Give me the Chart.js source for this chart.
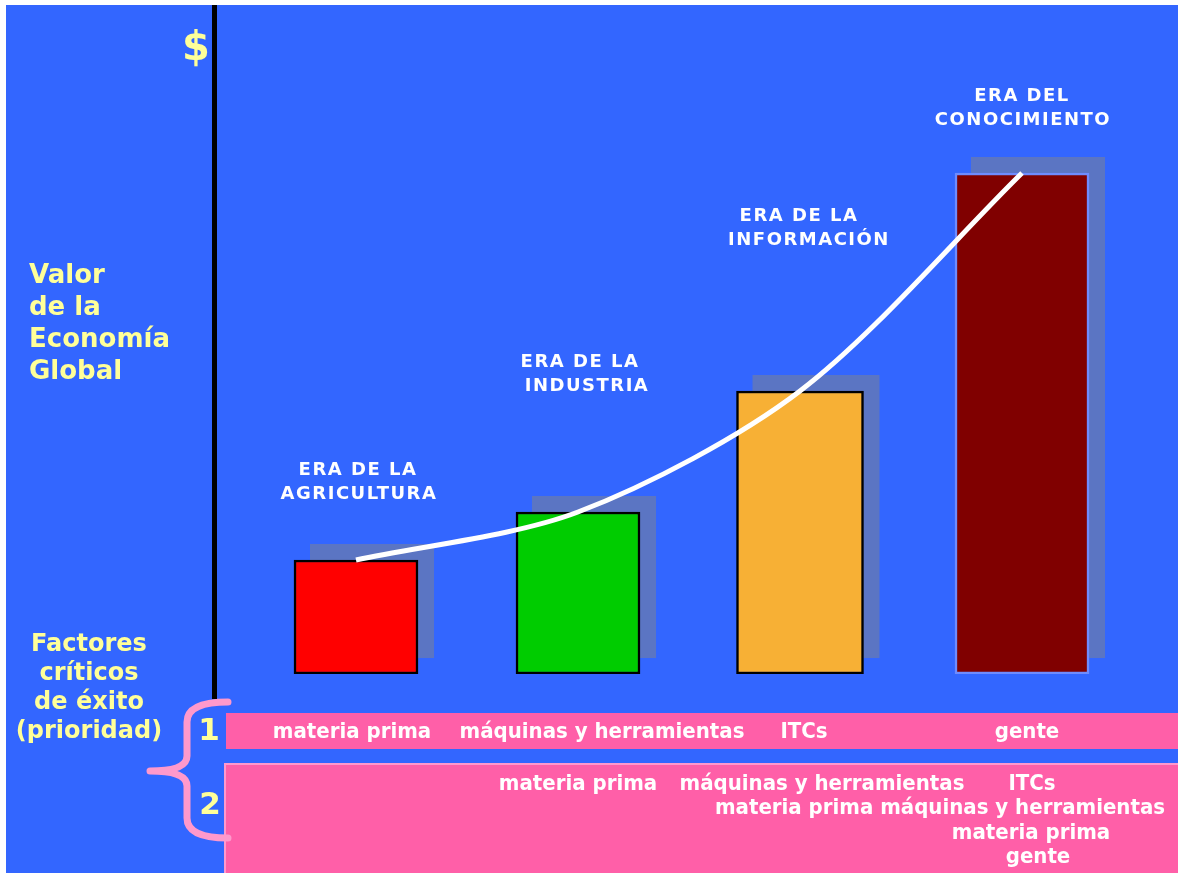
<!DOCTYPE html>
<html lang="es">
<head>
<meta charset="utf-8">
<title>Valor de la Economía Global</title>
<script src="https://cdn.jsdelivr.net/npm/chart.js@4/dist/chart.umd.min.js"></script>
<style>
  html, body { margin: 0; padding: 0; background: #ffffff; }
  #chart { display: block; }
</style>
</head>
<body>
<canvas id="chart" width="1178" height="873"></canvas>
<script>
// Eras (categories) and the value of the global economy in each one
const eras = [
  ['ERA DE LA', 'AGRICULTURA'],
  ['ERA DE LA', 'INDUSTRIA'],
  ['ERA DE LA', 'INFORMACIÓN'],
  ['ERA DEL', 'CONOCIMIENTO']
];
const valorEconomia = [22.8, 32.4, 56.6, 100.2];

// Critical success factors, priority 1 (one per era)
const factoresPrioridad1 = ['materia prima', 'máquinas y herramientas', 'ITCs', 'gente'];
// Critical success factors, priority 2 (rows of text in the lower band)
const factoresPrioridad2 = [
  ['materia prima', 'máquinas y herramientas', 'ITCs'],
  ['materia prima máquinas y herramientas'],
  ['materia prima'],
  ['gente']
];

// ---- styles and layout ----
const AZUL = '#3366FF';
const ROSA = '#FF5FA8';
const ROSA_CLARO = '#FF99CC';
const AMARILLO = '#FFFF99';
const SOMBRA = '#5B75C3';
const coloresBarras = ['#FF0000', '#00CC00', '#F7B035', '#800000'];
const bordesBarras = ['#000000', '#000000', '#000000', '#6E8CFF'];
const grosorBarras = [124, 124, 127, 134];
const DESPLAZAMIENTO_SOMBRA = 16;

// label placement: [centre x of line 1, centre x of line 2, middle y of line 1]
const posEras = [[358, 359, 470], [580, 587, 362], [799, 809, 216], [1022, 1023, 96]];
const posPrioridad1 = [352, 602, 804, 1027];
const posPrioridad2 = [[578, 822, 1032], [940], [1031], [1038]];
const filasPrioridad2 = [784, 808, 833, 857];

const FUENTE = '"DejaVu Sans", Verdana, sans-serif';
const FUENTE_ESTRECHA = '"DejaVu Sans Condensed", "DejaVu Sans", sans-serif';

function texto(ctx, s, x, y, font, color, align, spacing) {
  ctx.save();
  ctx.font = font;
  ctx.fillStyle = color;
  ctx.textAlign = align || 'center';
  ctx.textBaseline = 'middle';
  if (spacing) ctx.letterSpacing = spacing;
  ctx.fillText(s, x, y);
  ctx.restore();
}

// background, lower bands, brace, vertical axis and side captions
const fondo = {
  id: 'fondo',
  beforeDraw(chart) {
    const ctx = chart.ctx;
    ctx.save();
    ctx.fillStyle = '#ffffff';
    ctx.fillRect(0, 0, chart.width, chart.height);
    ctx.fillStyle = AZUL;
    ctx.fillRect(6, 5, chart.width - 6, chart.height - 5);

    // priority 1 band
    ctx.fillStyle = ROSA;
    ctx.fillRect(226, 713, chart.width - 226, 36);
    // priority 2 band
    ctx.fillStyle = ROSA_CLARO;
    ctx.fillRect(224, 763, chart.width - 224, chart.height - 763);
    ctx.fillStyle = ROSA;
    ctx.fillRect(226, 765, chart.width - 226, chart.height - 765);

    // brace
    ctx.strokeStyle = ROSA_CLARO;
    ctx.lineWidth = 7;
    ctx.lineCap = 'round';
    ctx.lineJoin = 'round';
    ctx.beginPath();
    ctx.moveTo(228, 702);
    ctx.quadraticCurveTo(187, 702, 187, 722);
    ctx.lineTo(187, 756);
    ctx.quadraticCurveTo(187, 771, 150, 771);
    ctx.quadraticCurveTo(187, 771, 187, 786);
    ctx.lineTo(187, 818);
    ctx.quadraticCurveTo(187, 838, 228, 838);
    ctx.stroke();

    // vertical value axis
    ctx.fillStyle = '#000000';
    ctx.fillRect(212, 5, 5, 694);
    ctx.restore();

    // captions
    texto(ctx, '$', 196, 50, 'bold 40px ' + FUENTE, AMARILLO);
    ['Valor', 'de la', 'Economía', 'Global'].forEach((s, i) =>
      texto(ctx, s, 29, 276 + i * 32, 'bold 26px ' + FUENTE, AMARILLO, 'left'));
    ['Factores', 'críticos', 'de éxito', '(prioridad)'].forEach((s, i) =>
      texto(ctx, s, 89, 645 + i * 29, 'bold 24px ' + FUENTE, AMARILLO));
    texto(ctx, '1', 209, 732, 'bold 31px ' + FUENTE, AMARILLO);
    texto(ctx, '2', 210, 806, 'bold 31px ' + FUENTE, AMARILLO);
  },
  // offset shadow behind every bar
  beforeDatasetsDraw(chart) {
    const ctx = chart.ctx;
    ctx.save();
    ctx.fillStyle = SOMBRA;
    chart.data.datasets.forEach((ds, di) => {
      if (ds.type === 'line') return;
      chart.getDatasetMeta(di).data.forEach(bar => {
        if (bar.skip || bar.y == null || isNaN(bar.y)) return;
        const p = bar.getProps(['x', 'y', 'base', 'width'], true);
        ctx.fillRect(p.x - p.width / 2 + DESPLAZAMIENTO_SOMBRA, p.y - DESPLAZAMIENTO_SOMBRA,
                     p.width, p.base - p.y);
      });
    });
    ctx.restore();
  },
  // era titles and factor texts
  afterDatasetsDraw(chart) {
    const ctx = chart.ctx;
    eras.forEach((lineas, i) => {
      const [x1, x2, y] = posEras[i];
      texto(ctx, lineas[0], x1, y, 'bold 18px ' + FUENTE, '#ffffff', 'center', '1.5px');
      texto(ctx, lineas[1], x2, y + 24, 'bold 18px ' + FUENTE, '#ffffff', 'center', '1.5px');
    });
    factoresPrioridad1.forEach((s, i) =>
      texto(ctx, s, posPrioridad1[i], 732, 'bold 22px ' + FUENTE_ESTRECHA, '#ffffff'));
    factoresPrioridad2.forEach((fila, r) =>
      fila.forEach((s, k) =>
        texto(ctx, s, posPrioridad2[r][k], filasPrioridad2[r], 'bold 22px ' + FUENTE_ESTRECHA, '#ffffff')));
  }
};

const datasetsBarras = valorEconomia.map((v, i) => ({
  type: 'bar',
  label: eras[i].join(' '),
  data: valorEconomia.map((_, j) => (j === i ? v : null)),
  backgroundColor: coloresBarras[i],
  borderColor: bordesBarras[i],
  borderWidth: 2.5,
  borderSkipped: false,
  barThickness: grosorBarras[i],
  grouped: false,
  order: 2
}));

new Chart(document.getElementById('chart'), {
  data: {
    labels: eras,
    datasets: [
      ...datasetsBarras,
      {
        type: 'line',
        label: 'Valor de la Economía Global',
        data: valorEconomia,
        borderColor: '#ffffff',
        borderWidth: 5,
        pointRadius: 0,
        tension: 0.3,
        clip: false,
        order: 0
      }
    ]
  },
  options: {
    responsive: false,
    animation: false,
    devicePixelRatio: 1,
    layout: { padding: { left: 245, right: 45, top: 124, bottom: 199 } },
    scales: {
      x: { display: false, offset: true },
      y: { display: false, min: 0, max: 110 }
    },
    plugins: { legend: { display: false }, tooltip: { enabled: false } }
  },
  plugins: [fondo]
});
</script>
</body>
</html>
